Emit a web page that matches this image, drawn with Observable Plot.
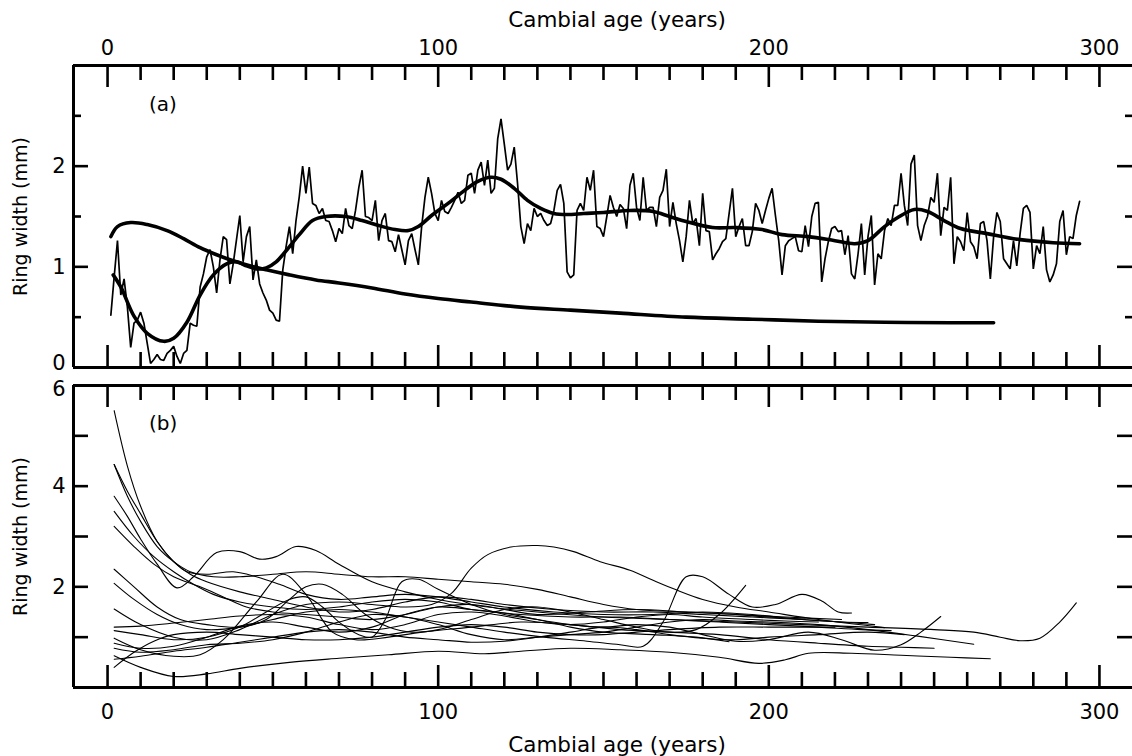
<!DOCTYPE html>
<html><head><meta charset="utf-8">
<script src="https://cdn.jsdelivr.net/npm/d3@7"></script>
<script src="https://cdn.jsdelivr.net/npm/@observablehq/plot@0.6"></script>
<style>
body{margin:0;background:#fff;}
#wrap{position:relative;width:1132px;height:756px;background:#fff;}
#wrap svg{position:absolute;left:0;overflow:visible;}
</style></head><body><div id="wrap"></div>
<script>
// ---------- Panel (a) data ----------
const rawStartAge = 1;
const rawWidth = [
0.52,0.9,1.26,0.72,0.88,0.6,0.2,0.44,0.47,0.55,
0.44,0.24,0.04,0.08,0.13,0.08,0.07,0.14,0.17,0.21,
0.11,0.04,0.14,0.17,0.44,0.42,0.41,0.8,0.93,1.1,
1.17,1.0,0.74,1.07,1.3,1.27,0.83,1.03,1.27,1.51,
1.05,1.3,1.4,0.87,1.07,0.83,0.74,0.67,0.57,0.54,
0.47,0.46,0.97,1.2,1.4,1.13,1.46,1.7,2.0,1.73,
1.99,1.63,1.61,1.53,1.58,1.46,1.45,1.36,1.25,1.38,
1.33,1.58,1.41,1.38,1.56,1.79,1.96,1.5,1.49,1.46,
1.66,1.26,1.46,1.53,1.26,1.25,1.15,1.32,1.17,1.02,
1.26,1.33,1.17,1.02,1.4,1.69,1.89,1.73,1.53,1.46,
1.66,1.55,1.53,1.59,1.66,1.74,1.63,1.66,1.91,1.93,
1.73,1.96,2.04,1.81,2.06,1.73,1.78,2.27,2.47,2.22,
1.96,2.02,2.19,1.83,1.4,1.23,1.43,1.36,1.58,1.5,
1.53,1.46,1.41,1.43,1.56,1.76,1.82,1.63,0.95,0.89,
0.92,1.56,1.63,1.56,1.89,1.76,1.96,1.4,1.38,1.3,
1.5,1.71,1.59,1.5,1.62,1.58,1.38,1.81,1.93,1.59,
1.46,1.89,1.56,1.59,1.59,1.4,1.69,1.76,1.97,1.4,
1.64,1.43,1.26,1.05,1.3,1.66,1.43,1.48,1.21,1.73,
1.36,1.35,1.07,1.13,1.18,1.25,1.28,1.53,1.78,1.3,
1.4,1.48,1.21,1.21,1.35,1.63,1.56,1.43,1.56,1.68,
1.78,1.51,1.26,0.92,1.21,1.26,1.28,1.3,1.16,1.15,
1.41,1.2,1.5,1.63,1.64,0.85,1.08,1.25,1.38,1.4,
1.35,1.36,1.12,1.31,0.93,0.88,1.13,1.43,0.92,1.3,
1.51,0.82,1.13,1.08,1.36,1.48,1.41,1.61,1.61,1.93,
1.61,1.41,2.02,2.11,1.41,1.26,1.41,1.5,1.69,1.64,
1.93,1.31,1.59,1.56,1.89,1.03,1.3,1.25,1.16,1.54,
1.25,1.2,1.08,1.43,1.45,1.26,0.88,1.3,1.54,1.45,
1.08,1.03,0.98,1.26,1.01,1.33,1.58,1.61,1.54,0.98,
1.21,1.13,1.4,0.97,0.85,0.92,1.03,1.45,1.56,1.12,
1.3,1.28,1.51,1.65];

const splineAge   = [1.7,4,8,12,17,20,24,28,32,36,39,42,45,48,51,54,58,62,66,72,77,82,87,91,94,98,103,108,112,116,119,123,127,131,135,139,144,150,158,165,170,175,183,190,198,204,212,220,226,230,235,239,244,248,253,258,266,276,286,294];
const splineWidth = [0.92,0.8,0.51,0.34,0.26,0.29,0.45,0.72,0.92,1.03,1.05,1.01,0.98,0.99,1.05,1.16,1.32,1.46,1.5,1.5,1.46,1.41,1.37,1.36,1.4,1.51,1.63,1.76,1.85,1.89,1.87,1.78,1.66,1.58,1.53,1.52,1.53,1.54,1.56,1.55,1.5,1.45,1.39,1.39,1.37,1.32,1.3,1.26,1.23,1.26,1.4,1.49,1.57,1.55,1.46,1.38,1.33,1.27,1.24,1.23];

const negExpAge   = [1,3,7,12,18,23,28,33,38,43,48,55,63,70,80,90,100,110,125,140,155,175,195,215,235,255,268];
const negExpWidth = [1.3,1.4,1.44,1.42,1.36,1.28,1.19,1.12,1.06,1.01,0.97,0.92,0.87,0.84,0.79,0.73,0.685,0.65,0.6,0.57,0.54,0.5,0.48,0.46,0.45,0.445,0.445];

// ---------- Panel (b) data: smoothed series [age, width] ----------
const b01 = [[2,5.5],[6,4.4],[10,3.6],[15,2.9],[20,2.5],[25,2.25],[30,2.1],[40,1.9],[50,1.75],[60,1.6],[70,1.5],[80,1.55],[90,1.7],[100,1.8],[110,1.75],[120,1.65],[135,1.55],[150,1.5],[165,1.5],[180,1.45],[195,1.4],[210,1.35],[222,1.3],[232,1.25]];
const b02 = [[2,4.43],[6,3.8],[10,3.3],[15,2.8],[20,2.5],[25,2.3],[32,2.2],[40,2.2],[50,2.25],[60,2.3],[70,2.25],[80,2.2],[90,2.2],[100,2.15],[110,2.1],[120,2.05],[130,1.95],[140,1.8],[150,1.65],[160,1.55],[175,1.5],[190,1.45],[200,1.4],[211,1.36]];
const b03 = [[2,4.43],[6,3.9],[10,3.45],[15,2.9],[20,2.5],[24,2.3],[30,2.25],[38,2.3],[45,2.2],[52,2.05],[60,1.85],[70,1.75],[80,1.8],[90,1.85],[100,1.8],[110,1.7],[120,1.6],[135,1.5],[150,1.45],[165,1.45],[180,1.5],[195,1.45],[210,1.35],[222,1.3],[230,1.29]];
const b04 = [[2,3.8],[6,3.4],[10,2.95],[15,2.45],[21,1.98],[26,2.2],[33,2.68],[40,2.7],[46,2.55],[51,2.6],[57,2.8],[63,2.72],[70,2.45],[80,2.1],[90,1.9],[100,1.75],[115,1.6],[130,1.5],[150,1.4],[170,1.35],[190,1.3],[210,1.25],[230,1.2],[250,1.15],[262,1.1],[270,1.0],[276,0.93],[282,0.98],[288,1.3],[293,1.68]];
const b05 = [[2,3.5],[8,3.0],[14,2.6],[20,2.3],[26,2.05],[32,1.85],[40,1.7],[50,1.6],[60,1.55],[70,1.6],[80,1.7],[90,1.75],[100,1.7],[110,1.55],[125,1.45],[140,1.4],[155,1.4],[170,1.35],[185,1.3],[200,1.25],[215,1.2],[228,1.15],[237,1.13]];
const b06 = [[2,3.2],[8,2.8],[14,2.45],[20,2.2],[28,2.0],[35,1.8],[42,1.6],[50,1.5],[60,1.45],[70,1.4],[80,1.35],[90,1.45],[100,1.6],[110,1.65],[120,1.55],[130,1.45],[145,1.5],[160,1.55],[175,1.5],[190,1.45],[205,1.4],[222,1.35]];
const b07 = [[2,2.35],[8,2.0],[15,1.6],[22,1.35],[30,1.25],[40,1.2],[48,1.35],[55,1.75],[60,2.0],[65,2.05],[71,1.85],[78,1.45],[85,1.2],[92,1.1],[100,1.15],[110,1.35],[120,1.55],[130,1.6],[140,1.5],[150,1.35],[160,1.2],[170,1.1],[178,1.15],[185,1.45],[193,2.03]];
const b08 = [[2,2.07],[8,1.75],[15,1.45],[22,1.25],[30,1.15],[40,1.2],[50,1.35],[60,1.5],[70,1.55],[80,1.5],[90,1.4],[100,1.3],[110,1.2],[120,1.1],[132,1.0],[145,0.92],[155,0.85],[162,0.82],[168,1.3],[175,2.2],[180,2.2],[188,1.85],[195,1.6],[202,1.65],[210,1.85],[216,1.72],[221,1.5],[225,1.48]];
const b09 = [[2,1.56],[10,1.25],[20,1.0],[30,0.95],[40,1.15],[50,1.45],[60,1.65],[70,1.7],[80,1.65],[90,1.6],[98,1.65],[104,1.87],[110,2.37],[115,2.64],[122,2.79],[130,2.82],[135,2.79],[141,2.7],[149,2.5],[158,2.33],[165,2.13],[172,1.94],[180,1.75],[190,1.6],[200,1.5],[215,1.35],[235,1.19]];
const b10 = [[2,1.2],[10,1.22],[20,1.28],[30,1.35],[40,1.42],[50,1.45],[60,1.4],[70,1.25],[80,1.15],[90,1.25],[100,1.45],[110,1.5],[120,1.42],[130,1.3],[140,1.25],[150,1.3],[160,1.4],[170,1.45],[180,1.4],[195,1.35],[205,1.32],[215,1.3]];
const b11 = [[2,1.13],[10,1.05],[20,0.95],[30,1.0],[40,1.2],[48,1.5],[55,1.75],[60,1.8],[65,1.6],[70,1.3],[76,1.05],[80,1.0],[84,1.35],[89,2.1],[94,2.15],[100,1.95],[110,1.65],[120,1.45],[130,1.35],[140,1.2],[150,1.1],[165,1.05],[178,1.0],[188,0.91]];
const b12 = [[2,0.98],[10,0.75],[20,0.62],[28,0.65],[35,0.95],[45,1.7],[53,2.25],[60,1.85],[68,1.1],[75,0.95],[85,1.0],[95,1.1],[110,1.2],[125,1.3],[140,1.25],[155,1.15],[170,1.1],[185,1.05],[200,0.95],[215,0.88],[230,0.82],[240,0.8],[250,0.78]];
const b13 = [[2,0.88],[10,0.78],[20,0.82],[30,1.0],[40,1.22],[50,1.3],[60,1.2],[70,1.1],[80,1.2],[90,1.45],[100,1.6],[110,1.55],[120,1.48],[130,1.35],[140,1.25],[150,1.2],[160,1.25],[170,1.2],[180,1.05],[190,0.92],[200,0.95],[212,1.1],[222,0.95],[232,0.74],[240,0.85],[246,1.1],[252,1.41]];
const b14 = [[2,0.78],[10,0.7],[20,0.75],[30,0.85],[40,0.88],[50,0.95],[60,1.1],[70,1.3],[80,1.45],[90,1.4],[100,1.25],[110,1.05],[120,0.95],[130,1.0],[140,1.05],[150,1.1],[160,1.2],[170,1.3],[180,1.35],[190,1.32],[200,1.3],[215,1.25],[230,1.15],[245,1.02],[262,0.86]];
const b15 = [[2,0.63],[10,0.4],[20,0.22],[30,0.27],[40,0.38],[55,0.5],[70,0.58],[85,0.65],[100,0.72],[114,0.67],[125,0.72],[140,0.78],[155,0.75],[170,0.7],[185,0.6],[197,0.48],[205,0.55],[212,0.68],[225,0.68],[240,0.64],[255,0.6],[267,0.57]];
const b16 = [[2,0.56],[10,0.62],[20,0.72],[30,0.8],[40,0.9],[50,1.0],[60,1.1],[70,1.15],[80,1.1],[90,1.0],[100,0.95],[110,0.9],[120,0.92],[130,1.0],[140,1.1],[150,1.2],[160,1.15],[170,1.05],[180,0.98],[190,0.95],[200,1.0],[215,1.05],[230,1.1],[241,1.05]];
const b17 = [[2,0.4],[8,0.7],[14,0.92],[20,1.05],[30,1.1],[40,1.05],[50,1.0],[60,0.95],[70,0.95],[80,1.0],[90,1.1],[100,1.2],[110,1.25],[120,1.2],[130,1.1],[140,1.05],[150,1.05],[160,1.1],[170,1.15],[185,1.2],[200,1.2],[210,1.2],[220,1.2]];
const panelBSeries = [b01,b02,b03,b04,b05,b06,b07,b08,b09,b10,b11,b12,b13,b14,b15,b16,b17];

// ---------- Axis / text ----------
const xMajorTicks = [0, 100, 200, 300];
const xMinorTicks = [10,20,30,40,50,60,70,80,90,110,120,130,140,150,160,170,180,190,210,220,230,240,250,260,270,280,290];
const yTicksA = [1, 2];
const yTickA0 = [0];
const yMinorA = [0.5, 1.5, 2.5];
const yMajorA = [0, 1, 2];
const yTicksB = [2, 4];
const yTickB6 = [6];
const yAllB = [1, 2, 3, 4, 5];
const xTitle = "Cambial age (years)";
const yTitle = "Ring width (mm)";
const panelLabels = ["(a)", "(b)"];

// ---------- layout ----------
const W = 1132;
const X_DOMAIN = [-10.3, 310];
const FONT = "DejaVu Sans";
const TICK_FS = 21, TITLE_FS = 21.5, YTITLE_FS = 19;
const pxPerX = (W - 73) / (X_DOMAIN[1] - X_DOMAIN[0]);
const fmt = d => String(d);

function tickRules(yLo, yHi, pxPerY, opts) {
  const marks = [];
  const lenY = px => px / pxPerY;
  const lenX = px => px / pxPerX;
  const sw = 2.6;
  marks.push(Plot.ruleX(xMajorTicks, {x: d => d, y1: yHi, y2: yHi - lenY(22), strokeWidth: sw}));
  marks.push(Plot.ruleX(xMinorTicks, {x: d => d, y1: yHi, y2: yHi - lenY(15), strokeWidth: sw}));
  marks.push(Plot.ruleX(xMajorTicks, {x: d => d, y1: yLo, y2: yLo + lenY(22), strokeWidth: sw}));
  marks.push(Plot.ruleX(xMinorTicks, {x: d => d, y1: yLo, y2: yLo + lenY(15), strokeWidth: sw}));
  marks.push(Plot.ruleY(opts.yMajor, {y: d => d, x1: X_DOMAIN[0], x2: X_DOMAIN[0] + lenX(15), strokeWidth: sw}));
  marks.push(Plot.ruleY(opts.yMajor, {y: d => d, x1: X_DOMAIN[1], x2: X_DOMAIN[1] - lenX(15), strokeWidth: sw}));
  if (opts.yMinor.length) {
    marks.push(Plot.ruleY(opts.yMinor, {y: d => d, x1: X_DOMAIN[0], x2: X_DOMAIN[0] + lenX(8), strokeWidth: sw}));
    marks.push(Plot.ruleY(opts.yMinor, {y: d => d, x1: X_DOMAIN[1], x2: X_DOMAIN[1] - lenX(7), strokeWidth: sw}));
  }
  marks.push(Plot.ruleY([yHi, yLo], {strokeWidth: 3}));
  marks.push(Plot.ruleX([X_DOMAIN[0]], {y1: yLo, y2: yHi, strokeWidth: 3}));
  return marks;
}

const rawRows = rawWidth.map((w, i) => ({age: rawStartAge + i, w}));
const splineRows = splineAge.map((a, i) => ({age: a, w: splineWidth[i]}));
const negExpRows = negExpAge.map((a, i) => ({age: a, w: negExpWidth[i]}));

const plotA = Plot.plot({
  width: W, height: 376,
  marginLeft: 73, marginRight: 0, marginTop: 65, marginBottom: 9,
  style: {fontFamily: FONT, background: "white", overflow: "visible"},
  x: {domain: X_DOMAIN, axis: null},
  y: {domain: [0, 3], axis: null},
  marks: [
    Plot.line(rawRows, {x: "age", y: "w", stroke: "black", strokeWidth: 1.7, strokeLinejoin: "miter"}),
    Plot.line(negExpRows, {x: "age", y: "w", stroke: "black", strokeWidth: 3.6, curve: "catmull-rom"}),
    Plot.line(splineRows, {x: "age", y: "w", stroke: "black", strokeWidth: 3.6, curve: "catmull-rom"}),
    ...tickRules(0, 3, 302 / 3, {yMajor: yMajorA, yMinor: yMinorA}),
    Plot.axisX(xMajorTicks, {anchor: "top", tickSize: 0, tickPadding: 11, fontSize: TICK_FS, label: null, tickFormat: fmt}),
    Plot.axisY(yTicksA, {anchor: "left", tickSize: 0, tickPadding: 8, fontSize: TICK_FS, label: null, tickFormat: fmt}),
    Plot.axisY(yTickA0, {anchor: "left", tickSize: 0, tickPadding: 8, fontSize: TICK_FS, label: null, tickFormat: fmt, dy: -4}),
    Plot.text([xTitle], {frameAnchor: "top", lineAnchor: "middle", dy: -45, dx: 14, fontSize: TITLE_FS}),
    Plot.text([yTitle], {frameAnchor: "left", textAnchor: "middle", lineAnchor: "middle", rotate: -90, dx: -53, fontSize: YTITLE_FS}),
    Plot.text([{x: 12.5, y: 2.61, t: panelLabels[0]}], {x: "x", y: "y", text: "t", textAnchor: "start", fontSize: 20})
  ]
});

const rowsB = panelBSeries.flatMap((s, k) => s.map(([a, w]) => ({age: a, w, id: k})));
const plotB = Plot.plot({
  width: W, height: 380,
  marginLeft: 73, marginRight: 0, marginTop: 9, marginBottom: 69,
  style: {fontFamily: FONT, background: "transparent", overflow: "visible"},
  x: {domain: X_DOMAIN, axis: null},
  y: {domain: [0, 6], axis: null},
  marks: [
    Plot.line(rowsB, {x: "age", y: "w", z: "id", stroke: "black", strokeWidth: 1.1, curve: "catmull-rom"}),
    ...tickRules(0, 6, 302 / 6, {yMajor: yAllB, yMinor: []}),
    Plot.axisX(xMajorTicks, {anchor: "bottom", tickSize: 0, tickPadding: 17, fontSize: TICK_FS, label: null, tickFormat: fmt}),
    Plot.axisY(yTicksB, {anchor: "left", tickSize: 0, tickPadding: 8, fontSize: TICK_FS, label: null, tickFormat: fmt}),
    Plot.axisY(yTickB6, {anchor: "left", tickSize: 0, tickPadding: 8, fontSize: TICK_FS, label: null, tickFormat: fmt, dy: 4}),
    Plot.text([xTitle], {frameAnchor: "bottom", lineAnchor: "middle", dy: 58, dx: 14, fontSize: TITLE_FS}),
    Plot.text([yTitle], {frameAnchor: "left", textAnchor: "middle", lineAnchor: "middle", rotate: -90, dx: -53, fontSize: YTITLE_FS}),
    Plot.text([{x: 12.5, y: 5.24, t: panelLabels[1]}], {x: "x", y: "y", text: "t", textAnchor: "start", fontSize: 20})
  ]
});

const wrap = document.getElementById("wrap");
plotA.style.top = "0px";
plotB.style.top = "376px";
wrap.appendChild(plotA);
wrap.appendChild(plotB);
</script></body></html>
